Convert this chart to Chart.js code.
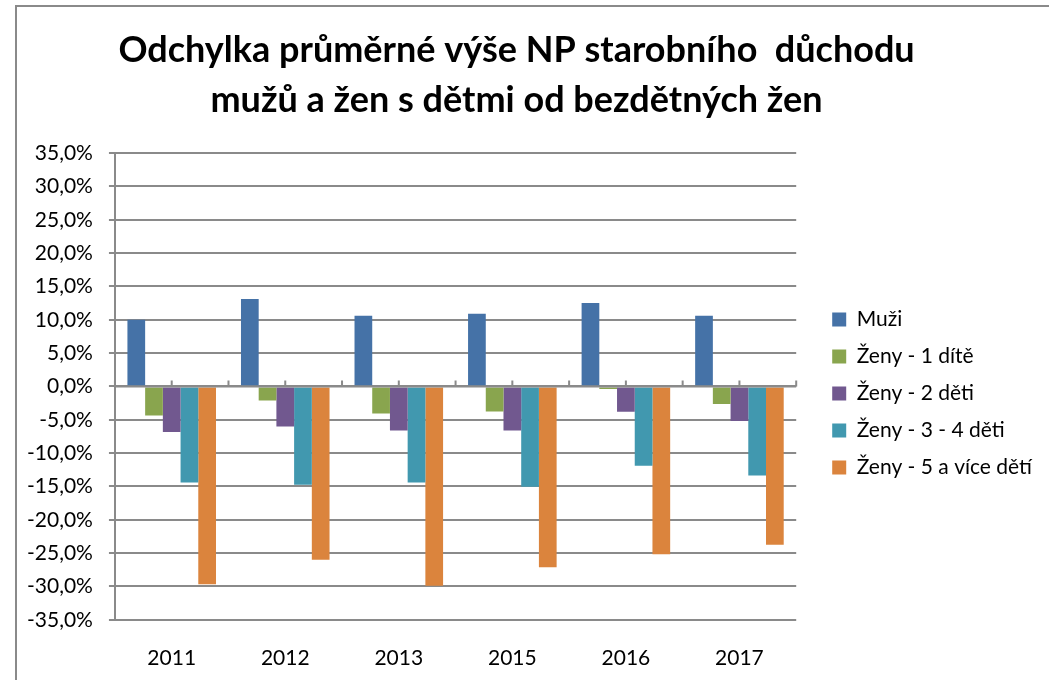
<!DOCTYPE html>
<html>
<head>
<meta charset="utf-8">
<script src="https://cdn.jsdelivr.net/npm/chart.js@4.4.0/dist/chart.umd.min.js"></script>
<style>
  html, body { margin: 0; padding: 0; background: #fff; }
  #wrap { position: relative; width: 1049px; height: 680px; overflow: hidden; }
  #frame { position: absolute; left: 15px; top: 5px; width: 1100px; height: 800px;
           border-left: 2px solid #8a8a8a; border-top: 2px solid #8a8a8a; }
  #c { position: absolute; left: 0; top: 0; }
</style>
</head>
<body>
<div id="wrap">
  <div id="frame"></div>
  <canvas id="c" width="1049" height="697"></canvas>
</div>
<script>
const years = ["2011", "2012", "2013", "2015", "2016", "2017"];
const seriesNames = ["Muži", "Ženy - 1 dítě", "Ženy - 2 děti", "Ženy - 3 - 4 děti", "Ženy - 5 a více dětí"];
const muzi = [10.0, 13.1, 10.6, 10.9, 12.5, 10.6];
const zeny1 = [-4.35, -2.1, -4.05, -3.75, -0.4, -2.65];
const zeny2 = [-6.85, -6.0, -6.6, -6.6, -3.8, -5.2];
const zeny34 = [-14.4, -14.75, -14.4, -15.05, -11.9, -13.35];
const zeny5 = [-29.65, -26.0, -29.9, -27.1, -25.15, -23.75];
const colors = ["#4572A7", "#89A54E", "#71588F", "#4198AF", "#DB843D"];

const values = [muzi, zeny1, zeny2, zeny34, zeny5];
const font = "Lato, 'Open Sans', sans-serif";
const legendShift = { x: 20, y: 49 };

// small tick marks on the zero line, at category centres and edges
const zeroTicks = {
  id: 'zeroTicks',
  afterLayout(chart) {
    // push the legend away from the plot, like excel does
    const l = chart.legend;
    l.left += legendShift.x; l.right += legendShift.x;
    l.top += legendShift.y; l.bottom += legendShift.y;
  },
  afterDatasetsDraw(chart) {
    const x = chart.scales.x, y = chart.scales.y, ctx = chart.ctx;
    const y0 = y.getPixelForValue(0);
    const step = (x.right - x.left) / years.length / 2;
    ctx.save();
    ctx.strokeStyle = '#8a8a8a';
    ctx.lineWidth = 2;
    ctx.beginPath();
    ctx.moveTo(x.left, y0); ctx.lineTo(x.right, y0);
    for (let i = 0; i <= years.length * 2; i++) {
      const px = x.left + i * step;
      ctx.moveTo(px, y0); ctx.lineTo(px, y0 - 6);
    }
    ctx.stroke();
    ctx.restore();
  }
};

new Chart(document.getElementById('c'), {
  type: 'bar',
  data: {
    labels: years,
    datasets: seriesNames.map((n, i) => ({
      label: n,
      data: values[i],
      backgroundColor: colors[i],
      borderWidth: 0
    }))
  },
  options: {
    responsive: false,
    animation: false,
    layout: { padding: { left: 11, right: 27, bottom: 8 } },
    datasets: { bar: { categoryPercentage: 0.78, barPercentage: 1.0 } },
    plugins: {
      title: {
        display: true,
        text: ["Odchylka průměrné výše NP starobního  důchodu", "mužů a žen s dětmi od bezdětných žen"],
        font: { family: font, size: 36, weight: 'bold', lineHeight: 1.39 },
        color: '#000',
        padding: { top: 25, bottom: 28 }
      },
      legend: {
        position: 'right',
        align: 'center',
        labels: {
          boxWidth: 14, boxHeight: 14, padding: 16,
          color: '#000',
          font: { family: font, size: 21 }
        }
      },
      tooltip: { enabled: false }
    },
    scales: {
      y: {
        min: -35, max: 35,
        ticks: {
          stepSize: 5, color: '#000', padding: 16,
          font: { family: font, size: 21 },
          callback: v => v.toFixed(1).replace('.', ',') + '%'
        },
        grid: { color: '#8a8a8a', lineWidth: 2, tickLength: 6 },
        border: { color: '#8a8a8a', width: 2 }
      },
      x: {
        grid: { display: false },
        border: { display: false },
        ticks: { color: '#000', padding: 18, font: { family: font, size: 21 } }
      }
    }
  },
  plugins: [zeroTicks]
});
</script>
</body>
</html>
